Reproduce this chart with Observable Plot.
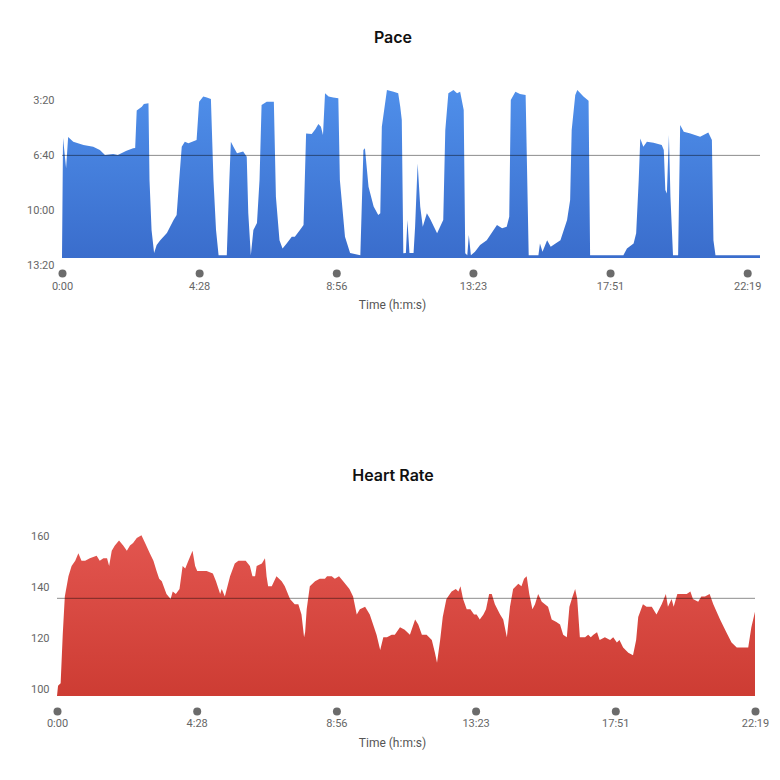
<!DOCTYPE html>
<html><head><meta charset="utf-8">
<script src="https://cdn.jsdelivr.net/npm/d3@7"></script>
<script src="https://cdn.jsdelivr.net/npm/@observablehq/plot@0.6"></script>
<style>
html,body{margin:0;padding:0;background:#fff;}
#page{position:relative;width:780px;height:780px;overflow:hidden;font-family:Roboto,"Liberation Sans",sans-serif;}
.title{position:absolute;left:0;width:786px;text-align:center;font:600 16px Inter,Roboto,sans-serif;color:#111;line-height:20px;}
.chart{position:absolute;left:0;}
.chart svg{max-width:none !important;}
</style></head><body><div id="page">
<div class="title" style="top:27px">Pace</div>
<div class="chart" id="pace" style="top:60px"></div>
<div class="title" style="top:465px">Heart Rate</div>
<div class="chart" id="hr" style="top:500px"></div>
</div>
<script>
// ---- Data (time in seconds) ----
const timeTicks = [0, 268, 536, 803, 1071, 1339];
const xAxisLabel = "Time (h:m:s)";

// Pace in seconds per km
const paceTicks = [200, 400, 600, 800];
const paceAvg = 425;
const paceTime = [
  0,2,8,12,22,42,61,74,84,100,
  109,126,139,143,146,156,160,169,171,175,
  180,185,192,205,218,224,229,234,240,247,
  263,268,276,283,291,296,301,306,322,327,
  330,335,342,354,361,364,369,374,381,386,
  390,400,414,418,425,431,439,449,455,465,
  472,477,488,495,501,506,510,514,521,530,
  540,543,553,563,583,589,592,599,609,618,
  622,625,635,648,657,661,664,667,672,675,
  679,687,690,695,700,705,713,719,733,742,
  745,749,755,765,772,778,785,788,792,795,
  799,807,817,830,850,860,869,874,877,886,
  895,906,912,931,934,939,948,955,974,987,
  993,996,1003,1007,1019,1029,1032,1097,1104,1117,
  1122,1127,1130,1136,1143,1156,1172,1176,1179,1182,
  1186,1189,1194,1204,1208,1215,1228,1247,1263,1270,
  1273,1277,1364
];
const paceValue = [
  800,364,473,360,377,389,395,407,425,422,
  425,410,401,400,264,250,240,237,516,698,
  782,753,735,709,662,644,516,395,377,383,
  371,232,213,216,222,516,698,790,790,516,
  377,395,419,413,432,636,790,698,673,516,
  244,232,232,577,735,765,747,723,723,698,
  680,347,349,332,313,323,353,201,213,216,
  219,516,723,782,790,407,401,541,613,644,
  637,323,189,195,201,250,298,783,782,662,
  782,782,686,456,613,686,637,656,710,674,
  662,335,201,189,201,195,262,783,790,716,
  790,777,753,735,680,692,686,650,225,195,
  204,207,790,790,747,777,735,759,735,662,
  589,335,207,189,213,228,790,790,765,747,
  710,516,365,395,377,381,389,407,553,565,
  353,577,790,790,316,341,347,359,344,371,
  735,790,790
];

// Heart rate in bpm
const hrTicks = [100, 120, 140, 160];
const hrAvg = 138.5;
const hrTime = [
  0,2,7,11,15,22,28,35,41,47,
  54,63,76,82,89,96,100,105,111,119,
  127,134,140,146,153,162,169,178,185,191,
  196,201,210,218,222,228,235,241,246,252,
  260,265,269,273,279,287,299,305,313,316,
  322,332,341,348,362,370,375,380,383,393,
  399,402,405,412,421,431,437,447,456,463,
  469,474,476,479,485,495,504,514,518,527,
  533,541,549,561,568,575,581,591,600,613,
  620,626,633,642,648,658,667,677,687,693,
  700,709,719,725,729,735,740,747,757,765,
  770,774,779,786,793,800,805,811,818,823,
  829,834,840,850,856,863,869,875,885,891,
  896,901,906,912,917,923,930,936,942,949,
  958,965,971,978,983,989,994,998,1003,1013,
  1019,1024,1029,1036,1041,1051,1061,1067,1074,1079,
  1086,1096,1105,1111,1115,1124,1131,1141,1150,1160,
  1168,1172,1179,1183,1190,1198,1208,1215,1220,1230,
  1236,1243,1252,1259,1272,1284,1294,1304,1313,1326,
  1332,1339
];
const hrBpm = [
  100,104,105,124,139,147,151,153,156,153,
  153,154,155,153,154,154,151,157,159,161,
  159,157,159,160,162,163,160,156,153,149,
  146,145,140,138,141,140,142,151,150,153,
  157,151,149,149,149,149,148,145,140,142,
  139,147,152,153,153,151,147,147,151,152,
  154,147,143,143,147,145,143,138,136,136,
  132,123,125,134,143,145,146,146,147,147,
  146,147,145,142,139,132,134,135,132,124,
  118,123,123,124,124,127,126,124,130,128,
  124,124,122,117,113,122,131,138,141,142,
  141,143,138,134,134,132,132,130,132,134,
  140,140,136,132,130,123,135,142,144,143,
  146,147,140,134,136,140,137,136,135,130,
  129,128,124,123,135,139,142,138,123,123,
  124,123,124,125,122,123,122,123,121,122,
  119,117,116,122,131,136,135,135,132,136,
  140,135,138,135,140,140,140,141,138,137,
  139,139,140,136,130,125,121,119,119,119,
  127,133
];

// ---- Helpers ----
const fmt = s => `${Math.floor(s / 60)}:${String(Math.round(s % 60)).padStart(2, "0")}`;
function gradient(id, top, bottom) {
  return () => {
    const ns = "http://www.w3.org/2000/svg";
    const defs = document.createElementNS(ns, "defs");
    const g = document.createElementNS(ns, "linearGradient");
    g.setAttribute("id", id);
    g.setAttribute("x1", "0"); g.setAttribute("y1", "0");
    g.setAttribute("x2", "0"); g.setAttribute("y2", "1");
    [[0, top], [1, bottom]].forEach(([o, c]) => {
      const s = document.createElementNS(ns, "stop");
      s.setAttribute("offset", o);
      s.setAttribute("stop-color", c);
      g.appendChild(s);
    });
    defs.appendChild(g);
    return defs;
  };
}

const paceData = paceTime.map((t, i) => ({t, v: paceValue[i]}));
const hrData = hrTime.map((t, i) => ({t, v: hrBpm[i]}));
const paceBase = d3.max(paceTicks);
const hrBase = d3.min(hrTicks);

const common = {
  width: 780, height: 260,
  style: {fontFamily: "Roboto, 'Liberation Sans', sans-serif", fontSize: "11px", background: "none", maxWidth: "none"}
};

// ---- Pace chart ----
const pace = Plot.plot({
  ...common,
  marginLeft: 62, marginRight: 20, marginTop: 33, marginBottom: 62,
  x: {domain: [0, d3.max(paceTime)], axis: null},
  y: {domain: [d3.min(paceTicks), paceBase], reverse: true, axis: null},
  marks: [
    gradient("paceGrad", "#4f8fea", "#3a6dcc"),
    Plot.areaY(paceData, {x: "t", y1: () => paceBase, y2: "v", fill: "url(#paceGrad)"}),
    Plot.ruleY([paceAvg], {stroke: "#000", strokeOpacity: 0.45, strokeWidth: 1}),
    Plot.text(paceTicks, {y: d => d, frameAnchor: "left", dx: -8, dy: 7, textAnchor: "end", text: fmt, fill: "#666", fontSize: 11}),
    Plot.dot(timeTicks, {x: d => d, y: () => paceBase, dy: 15, r: 4, fill: "#6b6b6b", stroke: "none"}),
    Plot.text(timeTicks, {x: d => d, y: () => paceBase, dy: 28, text: fmt, fill: "#666", fontSize: 11}),
    Plot.text([xAxisLabel], {frameAnchor: "bottom", dy: 50, dx: -19, text: d => d, fill: "#555", fontSize: 12})
  ]
});
document.getElementById("pace").appendChild(pace);

// ---- Heart rate chart ----
const hr = Plot.plot({
  ...common,
  marginLeft: 57, marginRight: 25, marginTop: 43, marginBottom: 64,
  x: {domain: [0, d3.max(hrTime)], axis: null},
  y: {domain: [hrBase, d3.max(hrTicks)], axis: null},
  marks: [
    gradient("hrGrad", "#e2554f", "#cd3c33"),
    Plot.areaY(hrData, {x: "t", y1: () => hrBase, y2: "v", fill: "url(#hrGrad)"}),
    Plot.ruleY([hrAvg], {stroke: "#000", strokeOpacity: 0.45, strokeWidth: 1}),
    Plot.text(hrTicks, {y: d => d, frameAnchor: "left", dx: -8, dy: -7, textAnchor: "end", text: d => String(d), fill: "#666", fontSize: 11}),
    Plot.dot(timeTicks, {x: d => d, y: () => hrBase, dy: 15, r: 4, fill: "#6b6b6b", stroke: "none"}),
    Plot.text(timeTicks, {x: d => d, y: () => hrBase, dy: 27, text: fmt, fill: "#666", fontSize: 11}),
    Plot.text([xAxisLabel], {frameAnchor: "bottom", dy: 50, dx: -14, text: d => d, fill: "#555", fontSize: 12})
  ]
});
document.getElementById("hr").appendChild(hr);
</script>
</body></html>
